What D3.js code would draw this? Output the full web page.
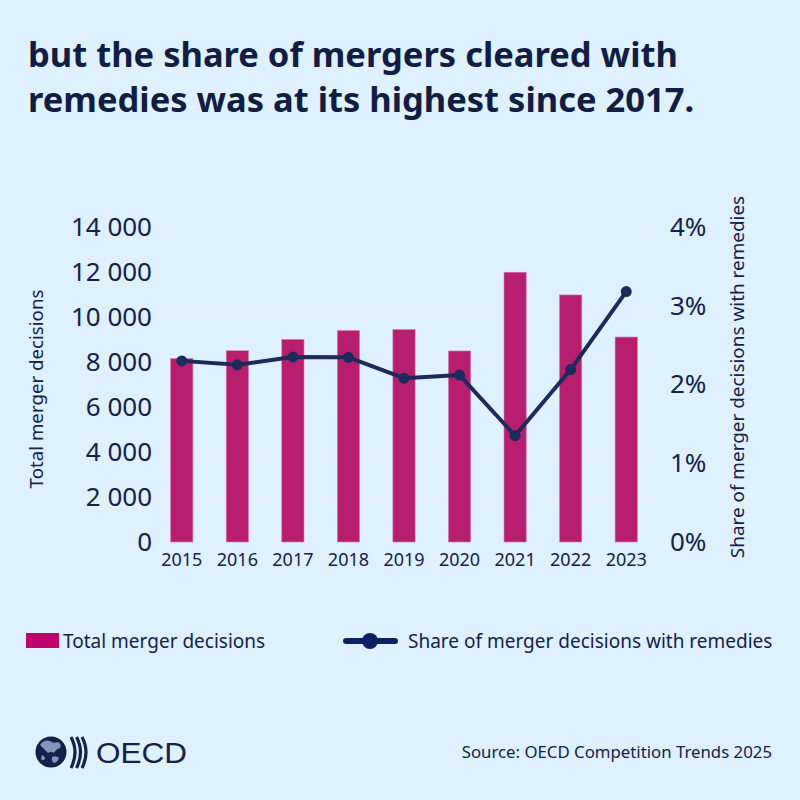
<!DOCTYPE html>
<html><head><meta charset="utf-8">
<script src="https://cdn.jsdelivr.net/npm/d3@7"></script>
<style>html,body{margin:0;padding:0;background:#dff0ff}svg{display:block}</style>
</head><body><svg id="c" width="800" height="800"></svg>
<script>
const titleLines = ["but the share of mergers cleared with", "remedies was at its highest since 2017."];
const years = ["2015","2016","2017","2018","2019","2020","2021","2022","2023"];
const totalDecisions = [8150, 8500, 9000, 9400, 9440, 8490, 11990, 10980, 9110];
const remedyShare = [2.30, 2.25, 2.35, 2.345, 2.08, 2.12, 1.35, 2.19, 3.18];
const leftTicks = [0, 2000, 4000, 6000, 8000, 10000, 12000, 14000];
const rightTicks = [0, 1, 2, 3, 4];
const seriesNames = ["Total merger decisions", "Share of merger decisions with remedies"];
const sourceText = "Source: OECD Competition Trends 2025";

(function () {
const BG = "#dff0ff", INK = "#14224a", BAR = "#b81e6e", LINE = "#1e2a5c";
const FONT = "'Noto Sans', 'Open Sans', sans-serif";
const svg = d3.select("#c");
svg.append("rect").attr("width", 800).attr("height", 800).attr("fill", BG);

// Title
svg.append("g").selectAll("text").data(titleLines).join("text")
  .attr("x", 28).attr("y", (d, i) => 67 + i * 45)
  .attr("font-family", FONT).attr("font-weight", 700).attr("font-size", 34.5)
  .attr("fill", "#111d42").text(d => d);

const pL = 154, pR = 654, pT = 227, pB = 542;
const x = d3.scaleBand().domain(years).range([pL, pR]).paddingInner(0.6).paddingOuter(0.3);
const yL = d3.scaleLinear().domain([0, 14000]).range([pB, pT]);
const yR = d3.scaleLinear().domain([0, 4]).range([pB, pT]);
const fmt = d3.formatLocale({decimal: ".", thousands: " ", grouping: [3], currency: ["", ""]}).format(",");

// gridlines
svg.append("g").selectAll("line").data(leftTicks.slice(1)).join("line")
  .attr("x1", pL).attr("x2", pR).attr("y1", d => yL(d)).attr("y2", d => yL(d))
  .attr("stroke", "#e9eef6").attr("stroke-width", 1);

// left axis
const gL = svg.append("g").attr("transform", `translate(${pL - 2},0)`)
  .call(d3.axisLeft(yL).tickValues(leftTicks).tickFormat(fmt).tickSize(0).tickPadding(0));
gL.select(".domain").remove();
gL.selectAll("text").attr("font-family", FONT).attr("font-size", 26).attr("fill", INK);

// right axis
const gR = svg.append("g").attr("transform", `translate(${pR + 16},0)`)
  .call(d3.axisRight(yR).tickValues(rightTicks).tickFormat(d => d + "%").tickSize(0).tickPadding(0));
gR.select(".domain").remove();
gR.selectAll("text").attr("font-family", FONT).attr("font-size", 26).attr("fill", INK);

// bottom axis
const gB = svg.append("g").attr("transform", `translate(0,${pB})`)
  .call(d3.axisBottom(x).tickSize(0).tickPadding(11));
gB.select(".domain").remove();
gB.selectAll("text").attr("font-family", FONT).attr("font-size", 18).attr("fill", INK);

// axis titles
svg.append("text").attr("transform", "translate(43,389) rotate(-90)")
  .attr("text-anchor", "middle").attr("font-family", FONT).attr("font-size", 18.7)
  .attr("fill", INK).text(seriesNames[0]);
svg.append("text").attr("transform", "translate(744,377) rotate(-90)")
  .attr("text-anchor", "middle").attr("font-family", FONT).attr("font-size", 18.9)
  .attr("fill", INK).text(seriesNames[1]);

// bars
svg.append("g").selectAll("rect").data(years).join("rect")
  .attr("x", d => x(d)).attr("width", x.bandwidth())
  .attr("y", (d, i) => yL(totalDecisions[i]))
  .attr("height", (d, i) => yL(0) - yL(totalDecisions[i]))
  .attr("fill", BAR).attr("stroke", "#d77aa8").attr("stroke-width", 0.6);

// line
const cx = d => x(d) + x.bandwidth() / 2;
svg.append("path").datum(years)
  .attr("d", d3.line().x(d => cx(d)).y((d, i) => yR(remedyShare[i])))
  .attr("fill", "none").attr("stroke", LINE).attr("stroke-width", 4).attr("stroke-linejoin", "round");
svg.append("g").selectAll("circle").data(years).join("circle")
  .attr("cx", d => cx(d)).attr("cy", (d, i) => yR(remedyShare[i])).attr("r", 5.5).attr("fill", LINE);

// legend
const lg = svg.append("g");
lg.append("rect").attr("x", 26).attr("y", 633).attr("width", 33).attr("height", 15).attr("fill", "#c0006b");
lg.append("text").attr("x", 63).attr("y", 648).attr("font-family", FONT).attr("font-size", 19)
  .attr("fill", INK).text(seriesNames[0]);
lg.append("line").attr("x1", 346).attr("x2", 395).attr("y1", 641).attr("y2", 641)
  .attr("stroke", "#0b2262").attr("stroke-width", 6).attr("stroke-linecap", "round");
lg.append("circle").attr("cx", 370).attr("cy", 641).attr("r", 8).attr("fill", "#0b2262");
lg.append("text").attr("x", 408).attr("y", 648).attr("font-family", FONT).attr("font-size", 19)
  .attr("fill", INK).text(seriesNames[1]);

// source
svg.append("text").attr("x", 772).attr("y", 758).attr("text-anchor", "end")
  .attr("font-family", FONT).attr("font-size", 16.8).attr("fill", INK).text(sourceText);

// OECD logo
const logo = svg.append("g");
logo.append("circle").attr("cx", 51).attr("cy", 752).attr("r", 15.5).attr("fill", "#14224a");
const land = ["M40,745 q4,-6 10,-4 q3,3 8,1 q4,2 2,6 q-4,1 -6,5 q-3,-2 -6,0 q-3,-3 -8,-8z",
              "M52,757 q4,-2 7,1 q-1,4 -5,5 q-3,-2 -2,-6z",
              "M42,755 q3,1 3,4 q-2,2 -4,0z"];
logo.selectAll("path.land").data(land).join("path").attr("class", "land").attr("d", d => d)
  .attr("fill", "#9fb4d6").attr("opacity", 0.8);
[0, 1, 2].forEach(i => {
  const bx = 71 + i * 5.5;
  logo.append("path").attr("d", `M${bx},737 Q${bx + 8},752 ${bx},768`)
    .attr("fill", "none").attr("stroke", "#14224a").attr("stroke-width", 3.2);
});
logo.append("text").attr("x", 96).attr("y", 763).attr("font-family", "'Liberation Sans', Arial, sans-serif")
  .attr("font-size", 29.5).attr("fill", "#14224a").attr("textLength", 91).attr("lengthAdjust", "spacingAndGlyphs").text("OECD");
})();
</script></body></html>
